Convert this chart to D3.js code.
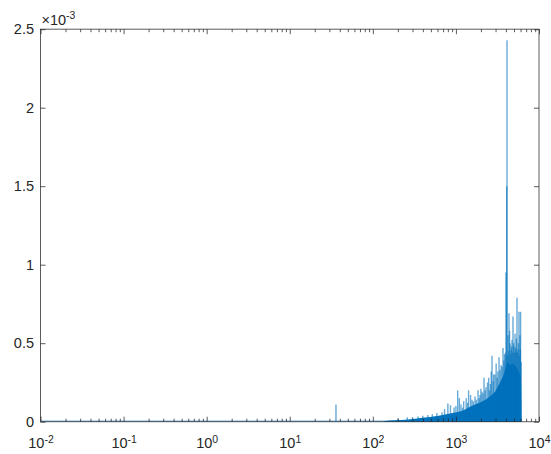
<!DOCTYPE html>
<html>
<head>
<meta charset="utf-8">
<script src="https://cdn.jsdelivr.net/npm/d3@7"></script>
<style>
  html, body { margin: 0; padding: 0; background: #fff; }
  svg { display: block; font-family: "Liberation Sans", Arial, Helvetica, sans-serif; }
</style>
</head>
<body>
<svg id="chart" width="551" height="454"></svg>
<script>
// ---- data ----
const xDomain = [1e-2, 1e4];
const yDomain = [0, 2.5e-3];
const xMajorTicks = [1e-2, 1e-1, 1e0, 1e1, 1e2, 1e3, 1e4];
const xTickExponents = ["-2", "-1", "0", "1", "2", "3", "4"];
const yTicks = [0, 0.5e-3, 1e-3, 1.5e-3, 2e-3, 2.5e-3];
const yTickLabels = ["0", "0.5", "1", "1.5", "2", "2.5"];
const yExponentLabel = "-3";

// dense baseline of the spectrum (solid region)
const baseFreq = [130, 141, 160, 185, 213, 245, 281, 323, 371, 426, 489, 561, 644, 741, 851, 977, 1122, 1288, 1479, 1698, 1950, 2240, 2574, 2958, 3396, 3690, 3899, 4121, 4477, 4864, 5284, 5585, 5900, 6067, 6150];
const baseAmp  = [0, 5e-6, 7e-6, 9e-6, 1.1e-5, 1.3e-5, 1.6e-5, 1.9e-5, 2.3e-5, 2.7e-5, 3.0e-5, 3.4e-5, 4.0e-5, 4.6e-5, 5.2e-5, 5.8e-5, 6.5e-5, 7.8e-5, 9.5e-5, 1.1e-4, 1.22e-4, 1.38e-4, 1.6e-4, 1.9e-4, 2.5e-4, 2.9e-4, 3.3e-4, 3.8e-4, 3.6e-4, 3.7e-4, 3.5e-4, 3.3e-4, 3.0e-4, 2.8e-4, 0];

// individual spectral peaks
const spikeFreq = [36, 200, 260, 300, 350, 400, 460, 520, 590, 680, 730, 800, 860, 950, 1000, 1050, 1100, 1150, 1200, 1240, 1330, 1380, 1420, 1500, 1560, 1620, 1698, 1760, 1845, 1900, 1950, 2000, 2060, 2120, 2178, 2240, 2300, 2400, 2480, 2540, 2600, 2660, 2720, 2800, 2850, 2950, 3050, 3130, 3200, 3303, 3400, 3500, 3600, 3690, 3780, 3850, 3950, 4000, 4090, 4121, 4180, 4230, 4290, 4355, 4420, 4480, 4540, 4603, 4670, 4730, 4800, 4864, 4940, 5000, 5070, 5150, 5220, 5284, 5360, 5433, 5500, 5585, 5660, 5741, 5820, 5900, 5960, 6000, 6100];
const spikeAmp  = [1.1e-4, 2.2e-5, 2.8e-5, 3.0e-5, 3.3e-5, 3.8e-5, 4.2e-5, 4.8e-5, 5.5e-5, 6.0e-5, 8.0e-5, 1.16e-4, 1.05e-4, 9e-5, 1.0e-4, 2.0e-4, 1.5e-4, 1.1e-4, 9e-5, 1.3e-4, 1.5e-4, 1.2e-4, 2.0e-4, 1.7e-4, 1.4e-4, 1.3e-4, 1.6e-4, 1.4e-4, 2.0e-4, 1.5e-4, 1.7e-4, 2.1e-4, 1.9e-4, 1.8e-4, 2.8e-4, 2.0e-4, 2.2e-4, 2.5e-4, 2.8e-4, 2.0e-4, 2.4e-4, 3.2e-4, 4.2e-4, 2.6e-4, 3.0e-4, 3.0e-4, 3.7e-4, 2.8e-4, 3.2e-4, 4.1e-4, 3.3e-4, 3.6e-4, 3.5e-4, 4.7e-4, 3.9e-4, 4.3e-4, 4.4e-4, 9.5e-4, 1.5e-3, 2.43e-3, 4.2e-4, 5.5e-4, 4.5e-4, 6.9e-4, 5.8e-4, 5.0e-4, 4.3e-4, 4.6e-4, 4.8e-4, 5.2e-4, 4.4e-4, 6.7e-4, 5.0e-4, 4.8e-4, 4.4e-4, 5.6e-4, 4.7e-4, 4.5e-4, 5.3e-4, 7.9e-4, 4.4e-4, 4.6e-4, 5.0e-4, 7.0e-4, 4.2e-4, 5.5e-4, 4.6e-4, 7.0e-4, 3.8e-4];

// full frequency span of the trace (flat near zero at low frequency)
const traceSpan = [1e-2, 6150];

// ---- drawing ----
const svg = d3.select("#chart");
const L = 40.5, R = 539, T = 29.2, B = 421.7;
const x = d3.scaleLog().domain(xDomain).range([L, R]);
const y = d3.scaleLinear().domain(yDomain).range([B, T]);
const lineColor = "#0072BD";
const axisColor = "#262626";

const plot = svg.append("g");

// flat trace along zero
plot.append("line")
  .attr("x1", x(traceSpan[0])).attr("x2", x(traceSpan[1]))
  .attr("y1", y(0) - 0.6).attr("y2", y(0) - 0.6)
  .attr("stroke", lineColor).attr("stroke-opacity", 0.55).attr("stroke-width", 1.2);

// solid dense region
const baseData = baseFreq.map((f, i) => [f, baseAmp[i]]);
plot.append("path")
  .datum(baseData)
  .attr("d", d3.area().x(d => x(d[0])).y0(y(0)).y1(d => y(d[1])))
  .attr("fill", lineColor);

// peaks
const spikeData = spikeFreq.map((f, i) => [f, spikeAmp[i]]);
plot.selectAll("line.spike").data(spikeData).enter().append("line")
  .attr("class", "spike")
  .attr("x1", d => x(d[0])).attr("x2", d => x(d[0]))
  .attr("y1", y(0)).attr("y2", d => y(d[1]))
  .attr("stroke", lineColor).attr("stroke-opacity", 0.6).attr("stroke-width", 1.4);

// axes box
svg.append("rect")
  .attr("x", L).attr("y", T).attr("width", R - L).attr("height", B - T)
  .attr("fill", "none").attr("stroke", axisColor).attr("stroke-opacity", 0.75).attr("stroke-width", 1);

// minor x ticks
const xMinor = [];
for (let e = -2; e < 4; e++) for (let m = 2; m <= 9; m++) xMinor.push(m * Math.pow(10, e));

function styleAxis(g) {
  g.select(".domain").remove();
  g.selectAll(".tick line").attr("stroke", axisColor).attr("stroke-opacity", 0.75);
  g.selectAll(".tick text").attr("fill", axisColor).attr("font-size", "14.5px");
}

// bottom major
const xb = svg.append("g").attr("transform", `translate(0,${B})`)
  .call(d3.axisBottom(x).tickValues(xMajorTicks).tickSize(-5).tickPadding(16).tickFormat(() => ""));
styleAxis(xb);
xb.selectAll(".tick text").each(function(d, i) {
  const t = d3.select(this);
  t.text(null).attr("dy", "0.71em");
  t.append("tspan").text("10");
  t.append("tspan").attr("dy", "-0.5em").attr("font-size", "0.72em").text(xTickExponents[i]);
});
// bottom minor
const xbm = svg.append("g").attr("transform", `translate(0,${B})`)
  .call(d3.axisBottom(x).tickValues(xMinor).tickSize(-3).tickFormat(() => ""));
styleAxis(xbm);
// top major & minor
const xt = svg.append("g").attr("transform", `translate(0,${T})`)
  .call(d3.axisTop(x).tickValues(xMajorTicks).tickSize(-5).tickFormat(() => ""));
styleAxis(xt);
const xtm = svg.append("g").attr("transform", `translate(0,${T})`)
  .call(d3.axisTop(x).tickValues(xMinor).tickSize(-3).tickFormat(() => ""));
styleAxis(xtm);

// left y
const yl = svg.append("g").attr("transform", `translate(${L},0)`)
  .call(d3.axisLeft(y).tickValues(yTicks).tickSize(-5).tickPadding(6.5).tickFormat((d, i) => yTickLabels[i]));
styleAxis(yl);
// right y
const yr = svg.append("g").attr("transform", `translate(${R},0)`)
  .call(d3.axisRight(y).tickValues(yTicks).tickSize(-5).tickFormat(() => ""));
styleAxis(yr);

// exponent label
const ex = svg.append("text").attr("x", L + 1).attr("y", T - 4.5)
  .attr("fill", axisColor).attr("font-size", "14.5px");
ex.append("tspan").text("\u00d710");
ex.append("tspan").attr("dy", "-0.5em").attr("font-size", "0.72em").text(yExponentLabel);
</script>
</body>
</html>
